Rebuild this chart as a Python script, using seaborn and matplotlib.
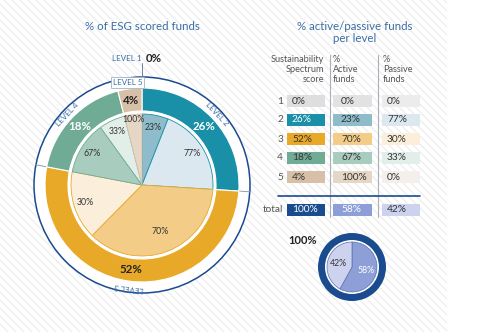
import numpy as np
import matplotlib
matplotlib.use("Agg")
import matplotlib.pyplot as plt
from matplotlib.patches import Circle, Rectangle
import seaborn as sns

sns.set_theme(style="white")
plt.rcParams['font.family'] = ['Lato', 'DejaVu Sans']

# ---- data -------------------------------------------------------------
levels = ["LEVEL 1", "LEVEL 2", "LEVEL 3", "LEVEL 4", "LEVEL 5"]
level_share = [0, 26, 52, 18, 4]          # % of ESG scored funds per level
active_share = [0, 23, 70, 67, 100]       # % active funds within each level
passive_share = [0, 77, 30, 33, 0]        # % passive funds within each level
total_labels = ["100%", "58%", "42%"]
total_split = [58, 42]                    # active / passive over all funds

# ---- colours ----------------------------------------------------------
level_col = ["#dedede", "#1a8fa8", "#e8a928", "#6fab95", "#d8c0a8"]
active_col = ["#e2e2e2", "#8ebccb", "#f3cc88", "#a8cdbf", "#e5d6c6"]
passive_col = ["#ececec", "#dce8f0", "#fbeeda", "#e2eee8", "#f4efea"]
navy = "#1a4b8e"
tot_active = "#8e9fd8"
tot_passive = "#cdd3ee"
title_col = "#3a6ea5"
text_dark = "#333333"
text_grey = "#555555"

W, H = 480, 332
fig = plt.figure(figsize=(W / 100, H / 100), dpi=100)
fig.patch.set_facecolor("white")
ax = fig.add_axes([0, 0, 1, 1])


def Y(y):
    """Convert a top-down pixel row into the axes' upward y."""
    return H - y


def polar(cx, cy, r, ang):
    a = np.deg2rad(ang)
    return cx + r * np.cos(a), cy + r * np.sin(a)


# ---- striped backdrop -------------------------------------------------
clip = Rectangle((0, 0), 447, H, transform=ax.transData)
for x0 in np.arange(-H, 447, 8):
    ln, = ax.plot([x0, x0 + H], [H, 0], color="#ededed", lw=0.9, zorder=0)
    ln.set_clip_path(clip)

# ---- main donut -------------------------------------------------------
cx, cy = 142, Y(185)
R_out, R_ring, ring_w, R_pie = 108, 97, 23, 71

ax.add_patch(Circle((cx, cy), R_out, facecolor="white", edgecolor=navy,
                    lw=1.1, zorder=1))

ring, _ = ax.pie(level_share, radius=R_ring, center=(cx, cy), startangle=90,
                 counterclock=False, colors=level_col,
                 wedgeprops=dict(width=ring_w, edgecolor="white", lw=0.8))
for w in ring:
    w.set_zorder(3)

# inner pie: active / passive split inside each level
inner_vals, inner_cols, inner_txt, inner_lvl = [], [], [], []
for i in range(len(levels)):
    for share, col in ((active_share[i], active_col[i]),
                       (passive_share[i], passive_col[i])):
        v = level_share[i] * share / 100
        if v > 0:
            inner_vals.append(v)
            inner_cols.append(col)
            inner_txt.append(f"{share}%")
            inner_lvl.append(i)

inner, _ = ax.pie(inner_vals, radius=R_pie, center=(cx, cy), startangle=90,
                  counterclock=False, colors=inner_cols,
                  wedgeprops=dict(lw=0.6))
for w, lvl in zip(inner, inner_lvl):
    w.set_edgecolor(level_col[lvl])
    w.set_zorder(3)

label_r = {2: 50, 6: 66}
for k, (w, t) in enumerate(zip(inner, inner_txt)):
    mid = (w.theta1 + w.theta2) / 2
    x, y = polar(cx, cy, label_r.get(k, 59), mid)
    ax.text(x, y, t, ha="center", va="center", fontsize=6.3,
            color=text_dark, zorder=5)

# level percentages and level names around the ring
pct_col = {1: "white", 2: "#222222", 3: "white", 4: "#222222"}
for i, w in enumerate(ring):
    if level_share[i] == 0:
        continue
    mid = (w.theta1 + w.theta2) / 2
    x, y = polar(cx, cy, R_ring - ring_w / 2, mid)
    ax.text(x, y, f"{level_share[i]}%", ha="center", va="center",
            fontsize=8.3, fontweight="bold", color=pct_col[i], zorder=5)
    if i in (1, 2, 3):
        lx, ly = polar(cx, cy, (R_ring + R_out) / 2 + 0.5, mid)
        ax.text(lx, ly, levels[i], ha="center", va="center", fontsize=5.8,
                color=title_col, rotation=mid - 90, zorder=5,
                rotation_mode="anchor")

# boundary ticks across the white band
for w in ring[1:4]:
    a = w.theta2
    x1, y1 = polar(cx, cy, R_ring, a)
    x2, y2 = polar(cx, cy, R_out, a)
    ax.plot([x1, x2], [y1, y2], color="#8aa0b4", lw=0.7, zorder=2)

# LEVEL 5 tag and LEVEL 1 pointer at the top
ax.text(127.5, Y(82.5), levels[4], ha="center", va="center", fontsize=5.8,
        color=title_col, zorder=6,
        bbox=dict(boxstyle="square,pad=0.2", fc="white", ec="#9fb3c8",
                  lw=0.6))
ax.plot([cx, cx], [cy + R_ring, Y(63)], color="#6a86a8", lw=0.7, zorder=4)
ax.text(cx - 1, Y(58.5), levels[0], ha="right", va="center", fontsize=5.8,
        color=title_col)
ax.text(cx + 4, Y(58.5), f"{level_share[0]}%", ha="left", va="center",
        fontsize=8.3, fontweight="bold", color="#222222")

ax.text(cx, Y(27), "% of ESG scored funds", ha="center", va="center",
        fontsize=8.3, color=title_col)

# ---- table ------------------------------------------------------------
ax.text(355, Y(27), "% active/passive funds", ha="center", va="center",
        fontsize=8.3, color=title_col)
ax.text(355, Y(38), "per level", ha="center", va="center",
        fontsize=8.3, color=title_col)

ax.text(324, Y(55), "Sustainability\nSpectrum\nscore", ha="right",
        va="top", fontsize=6.6, color=text_grey, linespacing=1.15)
ax.text(333, Y(55), "%\nActive\nfunds", ha="left", va="top",
        fontsize=6.6, color=text_grey, linespacing=1.15)
ax.text(383, Y(55), "%\nPassive\nfunds", ha="left", va="top",
        fontsize=6.6, color=text_grey, linespacing=1.15)

for sx in (329.5, 377.5):
    ax.plot([sx, sx], [Y(55), Y(217)], color="#a8b0be", lw=0.8, zorder=1)

col_x = [(287, 38), (333, 39), (382, 38)]
txt_pad = [5, 8, 5]
row_y = [101, 120, 139, 158, 177]
box_h = 12


def cell(col, y, face, txt, tcol):
    x0, w = col_x[col]
    ax.add_patch(Rectangle((x0, Y(y) - box_h / 2), w, box_h,
                           facecolor=face, edgecolor="none", zorder=2))
    ax.text(x0 + txt_pad[col], Y(y), txt, ha="left", va="center",
            fontsize=7.3, color=tcol, zorder=3)


for i in range(len(levels)):
    y = row_y[i]
    ax.text(283, Y(y), str(i + 1), ha="right", va="center", fontsize=7.3,
            color=text_grey)
    cell(0, y, level_col[i], f"{level_share[i]}%",
         "white" if i == 1 else text_dark)
    cell(1, y, active_col[i], f"{active_share[i]}%", text_dark)
    cell(2, y, passive_col[i], f"{passive_share[i]}%", text_dark)

ax.plot([278, 420], [Y(196), Y(196)], color=navy, lw=1.2, zorder=2)
ax.text(283, Y(210), "total", ha="right", va="center", fontsize=7.3,
        color=text_grey)
cell(0, 210, navy, total_labels[0], "white")
cell(1, 210, tot_active, total_labels[1], "white")
cell(2, 210, tot_passive, total_labels[2], text_dark)

# ---- total donut ------------------------------------------------------
sx_, sy_ = 352, Y(267)
ax.add_patch(Circle((sx_, sy_), 34, facecolor="white", edgecolor="none",
                    zorder=1))
ax.pie([100], radius=34, center=(sx_, sy_), colors=[navy],
       wedgeprops=dict(width=7, lw=0))
small, _ = ax.pie(total_split, radius=25, center=(sx_, sy_), startangle=90,
                  counterclock=False, colors=[tot_active, tot_passive],
                  wedgeprops=dict(edgecolor="#5a6fb0", lw=0.5))
for w, t, c in zip(small, total_labels[1:], ["white", text_dark]):
    mid = (w.theta1 + w.theta2) / 2
    x, y = polar(sx_, sy_, 14, mid)
    ax.text(x, y, t, ha="center", va="center", fontsize=6.3, color=c,
            zorder=5)
ax.text(303, Y(240), total_labels[0], ha="center", va="center",
        fontsize=8, fontweight="bold", color="#222222")

ax.set_xlim(0, W)
ax.set_ylim(0, H)
ax.set_aspect("auto")
ax.axis("off")

fig.savefig("out.png", dpi=100, facecolor="white")
